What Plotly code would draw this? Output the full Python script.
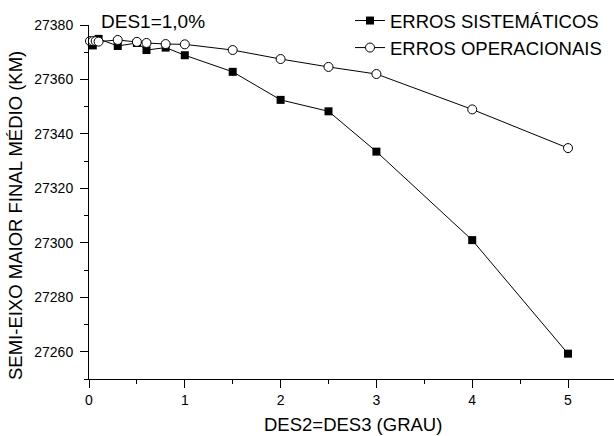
import plotly.graph_objects as go

# DES2=DES3 (grau) versus semi-eixo maior final médio (km), DES1 = 1,0 %
x_sistematicos = [0.04, 0.1, 0.3, 0.5, 0.6, 0.8, 1.0, 1.5, 2.0, 2.5, 3.0, 4.0, 5.0]
y_sistematicos = [27372.5, 27374.9, 27372.3, 27373.4, 27370.8, 27371.7, 27368.9,
                  27362.8, 27352.5, 27348.3, 27333.5, 27301.0, 27259.3]

x_operacionais = [0.01, 0.04, 0.07, 0.1, 0.3, 0.5, 0.6, 0.8, 1.0, 1.5, 2.0, 2.5, 3.0, 4.0, 5.0]
y_operacionais = [27374.1, 27374.1, 27374.1, 27373.9, 27374.5, 27373.8, 27373.4, 27373.0,
                  27372.9, 27370.8, 27367.5, 27364.6, 27362.0, 27349.0, 27334.8]

x_ticks = [0, 1, 2, 3, 4, 5]
y_ticks = [27260, 27280, 27300, 27320, 27340, 27360, 27380]

FONT = "Arial, Liberation Sans, sans-serif"
TITLE_SIZE = 18.5

fig = go.Figure()
fig.add_trace(go.Scatter(
    x=x_sistematicos, y=y_sistematicos, mode="lines+markers",
    name="ERROS SISTEMÁTICOS",
    line=dict(color="black", width=1),
    marker=dict(symbol="square", size=8, color="black", line=dict(width=0)),
    cliponaxis=False,
))
fig.add_trace(go.Scatter(
    x=x_operacionais, y=y_operacionais, mode="lines+markers",
    name="ERROS OPERACIONAIS",
    line=dict(color="black", width=1),
    marker=dict(symbol="circle", size=9, color="white", line=dict(color="black", width=1)),
    cliponaxis=False,
))

axis_common = dict(
    showgrid=False, zeroline=False, showline=True, linecolor="black", linewidth=1,
    ticks="outside", ticklen=8, tickwidth=1, tickcolor="black",
    tickfont=dict(family=FONT, size=14, color="black"),
)

fig.update_xaxes(
    range=[0, 5.48], tickvals=x_ticks, ticktext=[str(v) for v in x_ticks],
    minor=dict(dtick=0.5, ticks="outside", ticklen=4, tickcolor="black", showgrid=False),
    **axis_common,
)
fig.update_yaxes(
    range=[27250, 27380], tickvals=y_ticks, ticktext=[str(v) for v in y_ticks],
    minor=dict(dtick=10, ticks="outside", ticklen=4, tickcolor="black", showgrid=False),
    ticklabelstandoff=4,
    **axis_common,
)

fig.update_layout(
    width=614, height=436,
    margin=dict(l=89, r=0, t=25, b=57),
    plot_bgcolor="white", paper_bgcolor="white",
    font=dict(family=FONT, color="black"),
    showlegend=True,
    legend=dict(
        x=(350 - 89) / 525, y=1 + 23 / 354, xanchor="left", yanchor="top",
        bgcolor="rgba(0,0,0,0)", font=dict(family=FONT, size=TITLE_SIZE, color="black"),
        tracegroupgap=0,
    ),
    annotations=[
        dict(text="DES1=1,0%", xref="paper", yref="paper",
             x=(153 - 89) / 525, y=1 + 4 / 354, xanchor="center", yanchor="middle",
             showarrow=False, font=dict(family=FONT, size=19, color="black")),
        dict(text="DES2=DES3 (GRAU)", xref="paper", yref="paper",
             x=(353 - 89) / 525, y=-(424 - 379) / 354, xanchor="center", yanchor="middle",
             showarrow=False, font=dict(family=FONT, size=TITLE_SIZE, color="black")),
        dict(text="SEMI-EIXO MAIOR FINAL MÉDIO (KM)", xref="paper", yref="paper",
             x=-(89 - 15) / 525, y=(379 - 216) / 354, xanchor="center", yanchor="middle",
             textangle=-90, showarrow=False, font=dict(family=FONT, size=TITLE_SIZE, color="black")),
    ],
)

fig.write_html("out.html")
